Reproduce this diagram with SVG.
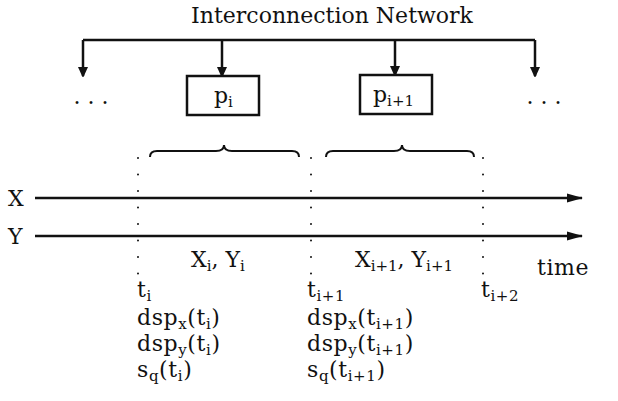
<svg xmlns="http://www.w3.org/2000/svg" width="618" height="401" viewBox="0 0 618 401">
<style>
text{font-family:"DejaVu Serif","Liberation Serif",serif;font-size:22px;fill:#111}
.s{font-size:15px}
.b{letter-spacing:0.6px}
.ln{stroke:#111;stroke-width:2.5;fill:none}
.box{stroke:#111;stroke-width:2.5;fill:#fff}
.dot{stroke:#111;stroke-width:2;stroke-linecap:round;stroke-dasharray:0 16.5;fill:none}
.br{stroke:#111;stroke-width:2;fill:none}
</style>
<defs>
<marker id="ah" markerWidth="10" markerHeight="12" refX="9" refY="5" orient="auto" markerUnits="userSpaceOnUse">
<path d="M0,0 L11,5 L0,10 Z" fill="#111"/>
</marker>
<marker id="ahl" markerWidth="16" markerHeight="10" refX="15" refY="5" orient="auto" markerUnits="userSpaceOnUse">
<path d="M0,0.5 L16,5 L0,9.5 Z" fill="#111"/>
</marker>
</defs>
<text x="332" y="23" text-anchor="middle">Interconnection Network</text>
<g id="connectors">
<path class="ln" d="M83,40 H535"/>
<path class="ln" d="M83,40 V76" marker-end="url(#ah)"/>
<path class="ln" d="M222,40 V76" marker-end="url(#ah)"/>
<path class="ln" d="M395,40 V75" marker-end="url(#ah)"/>
<path class="ln" d="M535,40 V76" marker-end="url(#ah)"/>
<path class="ln" d="M35,198 H582" marker-end="url(#ahl)"/>
<path class="ln" d="M35,236 H582" marker-end="url(#ahl)"/>
</g>
<g id="p_i">
<rect class="box" x="187" y="76" width="72" height="39"/>
<text x="214" y="103">p<tspan class="s" dy="4">i</tspan></text>
</g>
<g id="p_i1">
<rect class="box" x="360" y="75" width="72" height="39"/>
<text x="373" y="102">p<tspan class="s" dy="4">i+1</tspan></text>
</g>
<g id="dots_left"><text x="91" y="104" text-anchor="middle">. . .</text></g>
<g id="dots_right"><text x="544" y="104" text-anchor="middle">. . .</text></g>
<g id="braces">
<path class="br" d="M150,157 Q150,151 157,151 H216 Q224,151 224,145 Q224,151 232,151 H292 Q299,151 299,157"/>
<path class="br" d="M326,157 Q326,151 333,151 H394 Q402,151 402,145 Q402,151 410,151 H467 Q474,151 474,157"/>
</g>
<g id="timelines">
<path class="dot" d="M138,158 V275"/>
<path class="dot" d="M311,158 V275"/>
<path class="dot" d="M483,158 V275"/>
</g>
<text x="8" y="206">X</text>
<text x="8" y="244">Y</text>
<text x="191" y="267">X<tspan class="s" dy="4">i</tspan><tspan dy="-4">, Y</tspan><tspan class="s" dy="4">i</tspan></text>
<text x="355" y="267">X<tspan class="s" dy="4">i+1</tspan><tspan dy="-4">, Y</tspan><tspan class="s" dy="4">i+1</tspan></text>
<text x="537" y="275" class="b">time</text>
<g id="col1" class="b">
<text x="137" y="297">t<tspan class="s" dy="4">i</tspan></text>
<text x="137" y="325">dsp<tspan class="s" dy="4">x</tspan><tspan dy="-4">(t</tspan><tspan class="s" dy="4">i</tspan><tspan dy="-4">)</tspan></text>
<text x="137" y="351">dsp<tspan class="s" dy="4">y</tspan><tspan dy="-4">(t</tspan><tspan class="s" dy="4">i</tspan><tspan dy="-4">)</tspan></text>
<text x="137" y="377">s<tspan class="s" dy="4">q</tspan><tspan dy="-4">(t</tspan><tspan class="s" dy="4">i</tspan><tspan dy="-4">)</tspan></text>
</g>
<g id="col2" class="b">
<text x="307" y="297">t<tspan class="s" dy="4">i+1</tspan></text>
<text x="307" y="325">dsp<tspan class="s" dy="4">x</tspan><tspan dy="-4">(t</tspan><tspan class="s" dy="4">i+1</tspan><tspan dy="-4">)</tspan></text>
<text x="307" y="351">dsp<tspan class="s" dy="4">y</tspan><tspan dy="-4">(t</tspan><tspan class="s" dy="4">i+1</tspan><tspan dy="-4">)</tspan></text>
<text x="307" y="377">s<tspan class="s" dy="4">q</tspan><tspan dy="-4">(t</tspan><tspan class="s" dy="4">i+1</tspan><tspan dy="-4">)</tspan></text>
</g>
<g id="col3" class="b">
<text x="481" y="297">t<tspan class="s" dy="4">i+2</tspan></text>
</g>
</svg>
